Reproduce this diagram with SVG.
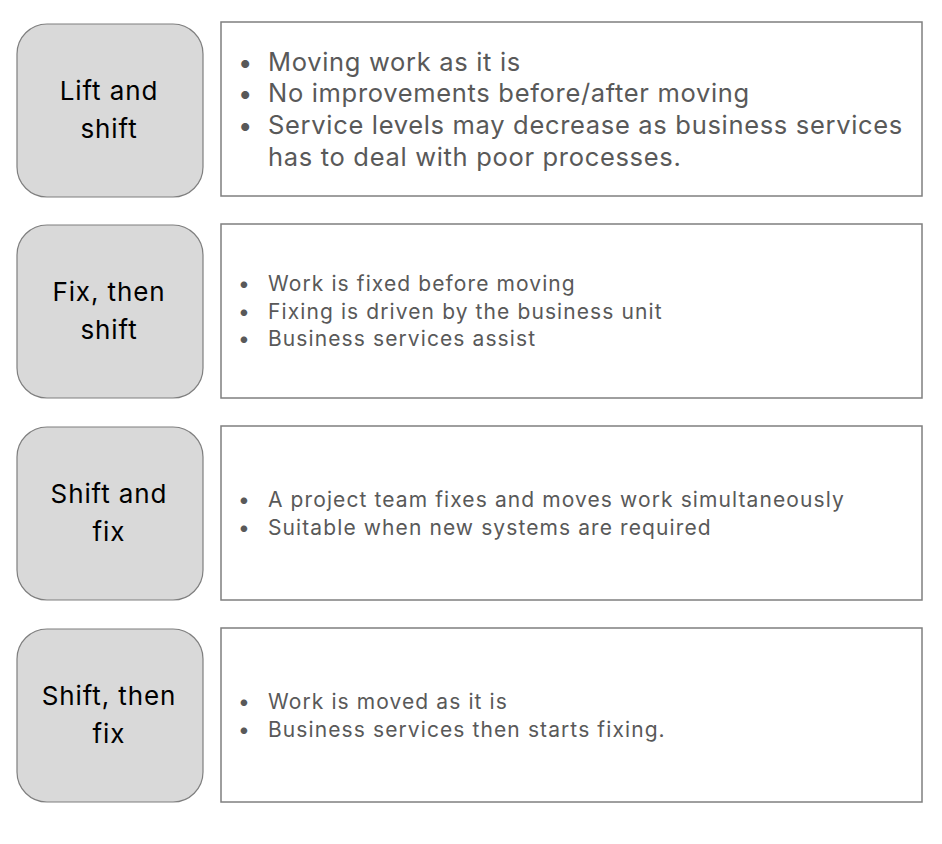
<svg xmlns="http://www.w3.org/2000/svg" width="942" height="844" viewBox="0 0 942 844">
<style>
.l{fill:#d9d9d9;stroke:#7f7f7f;stroke-width:1.2}
.r{fill:#fff;stroke:#7f7f7f;stroke-width:1.5}
.t{font-family:Inter,"Noto Sans",sans-serif;font-size:26px;letter-spacing:0.9px;fill:#000;text-anchor:middle}
.b{font-family:Inter,"Noto Sans",sans-serif;font-size:21px;letter-spacing:1.1px;fill:#595959}
.b1{font-family:Inter,"Noto Sans",sans-serif;font-size:25.5px;letter-spacing:0.68px;fill:#595959}
</style>
<rect width="942" height="844" fill="#fff"/>
<g id="n1">
<rect class="l" x="17" y="24" width="186" height="173" rx="30"/>
<text class="t" x="109" y="100">Lift and</text><text class="t" x="109" y="138">shift</text>
<rect class="r" x="221" y="22" width="701" height="174"/>
<text class="b1"><tspan x="238" y="71">•</tspan><tspan x="268" y="71">Moving work as it is</tspan><tspan x="238" y="102">•</tspan><tspan x="268" y="102">No improvements before/after moving</tspan><tspan x="238" y="134">•</tspan><tspan x="268" y="134">Service levels may decrease as business services</tspan><tspan x="268" y="166">has to deal with poor processes.</tspan></text>
</g>
<g id="n2">
<rect class="l" x="17" y="225" width="186" height="173" rx="30"/>
<text class="t" x="109" y="301">Fix, then</text><text class="t" x="109" y="339">shift</text>
<rect class="r" x="221" y="224" width="701" height="174"/>
<text class="b"><tspan x="238" y="291">•</tspan><tspan x="268" y="291">Work is fixed before moving</tspan><tspan x="238" y="319">•</tspan><tspan x="268" y="319">Fixing is driven by the business unit</tspan><tspan x="238" y="346">•</tspan><tspan x="268" y="346">Business services assist</tspan></text>
</g>
<g id="n3">
<rect class="l" x="17" y="427" width="186" height="173" rx="30"/>
<text class="t" x="109" y="503">Shift and</text><text class="t" x="109" y="541">fix</text>
<rect class="r" x="221" y="426" width="701" height="174"/>
<text class="b"><tspan x="238" y="507">•</tspan><tspan x="268" y="507">A project team fixes and moves work simultaneously</tspan><tspan x="238" y="535">•</tspan><tspan x="268" y="535">Suitable when new systems are required</tspan></text>
</g>
<g id="n4">
<rect class="l" x="17" y="629" width="186" height="173" rx="30"/>
<text class="t" x="109" y="705">Shift, then</text><text class="t" x="109" y="743">fix</text>
<rect class="r" x="221" y="628" width="701" height="174"/>
<text class="b"><tspan x="238" y="709">•</tspan><tspan x="268" y="709">Work is moved as it is</tspan><tspan x="238" y="737">•</tspan><tspan x="268" y="737">Business services then starts fixing.</tspan></text>
</g>
<g id="connectors"/>
</svg>
